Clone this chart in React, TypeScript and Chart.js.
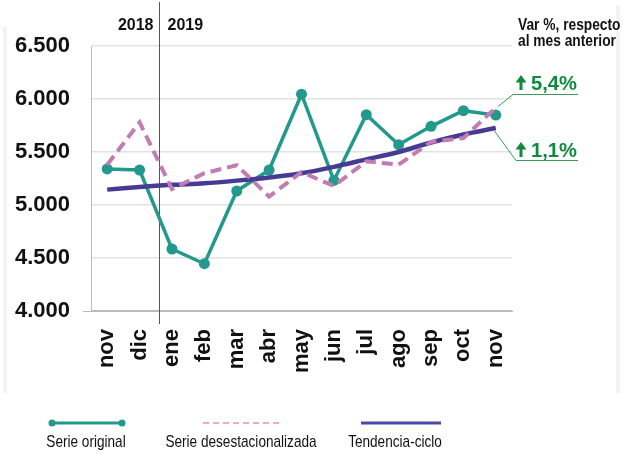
import { useEffect, useRef } from 'react';
import { Chart, registerables } from 'chart.js';

Chart.register(...registerables);

const categories = ['nov', 'dic', 'ene', 'feb', 'mar', 'abr', 'may', 'jun', 'jul', 'ago', 'sep', 'oct', 'nov'];
const serieOriginal = [5340, 5330, 4585, 4446, 5132, 5330, 6045, 5232, 5852, 5569, 5742, 5890, 5848];
const serieDesest = [5380, 5780, 5150, 5300, 5375, 5080, 5310, 5180, 5412, 5380, 5595, 5632, 5918];
const tendencia = [5145, 5170, 5190, 5205, 5230, 5260, 5300, 5360, 5430, 5500, 5590, 5665, 5726];
const yTickValues = [4000, 4500, 5000, 5500, 6000, 6500];
const yTickLabels = ['4.000', '4.500', '5.000', '5.500', '6.000', '6.500'];
const yearLabels = ['2018', '2019'];
const varTitle = ['Var %, respecto', 'al mes anterior'];
const varDesest = '5,4%';
const varTend = '1,1%';
const legendLabels = ['Serie original', 'Serie desestacionalizada', 'Tendencia-ciclo'];

const TEAL = '#23998d';
const PINK = '#c27bb3';
const PINK_LEGEND = '#f2a9c9';
const NAVY = '#463b93';
const NAVY_LEGEND = '#4d4aa3';
const GREEN = '#0f8a3f';
const SANS = '"Liberation Sans", Arial, Helvetica, sans-serif';

function drawText(ctx: CanvasRenderingContext2D, text: string, x: number, y: number, font: string, align: CanvasTextAlign, sx: number) {
  ctx.save();
  ctx.font = font;
  ctx.textAlign = align;
  ctx.textBaseline = 'alphabetic';
  ctx.translate(x, y);
  ctx.scale(sx, 1);
  ctx.fillText(text, 0, 0);
  ctx.restore();
}

function drawUpArrow(ctx: CanvasRenderingContext2D, cx: number, baseline: number) {
  ctx.beginPath();
  ctx.moveTo(cx - 5.5, baseline - 7.5);
  ctx.lineTo(cx, baseline - 15);
  ctx.lineTo(cx + 5.5, baseline - 7.5);
  ctx.closePath();
  ctx.fill();
  ctx.fillRect(cx - 1.5, baseline - 8.5, 3, 8.5);
}

const overlay = {
  id: 'overlay',
  beforeDraw(chart: any) {
    const ctx = chart.ctx;
    ctx.save();
    ctx.fillStyle = '#ffffff';
    ctx.fillRect(0, 0, chart.width, chart.height);
    ctx.fillStyle = '#f3f3f3';
    ctx.fillRect(3, 27, 4, 366);
    ctx.fillRect(616, 6, 4, 387);
    ctx.restore();
  },
  beforeDatasetsDraw(chart: any) {
    const ctx = chart.ctx;
    const xs = chart.scales.x;
    const area = chart.chartArea;
    const p1 = xs.getPixelForValue(1);
    const p2 = xs.getPixelForValue(2);
    const sep = Math.round(p1 + 0.6 * (p2 - p1)) + 0.5;
    ctx.save();
    ctx.strokeStyle = '#555555';
    ctx.lineWidth = 1;
    ctx.beginPath();
    ctx.moveTo(sep, 2);
    ctx.lineTo(sep, area.bottom + 13);
    ctx.stroke();
    ctx.strokeStyle = '#bbbbbb';
    ctx.beginPath();
    ctx.moveTo(area.left - 8, Math.round(area.bottom) + 0.5);
    ctx.lineTo(area.left, Math.round(area.bottom) + 0.5);
    ctx.stroke();
    ctx.fillStyle = '#111111';
    drawText(ctx, yearLabels[0], sep - 6, 30, 'bold 16px ' + SANS, 'right', 1);
    drawText(ctx, yearLabels[1], sep + 8, 30, 'bold 16px ' + SANS, 'left', 1);
    ctx.restore();
  },
  afterDraw(chart: any) {
    const ctx = chart.ctx;
    ctx.save();
    ctx.fillStyle = '#111111';
    drawText(ctx, varTitle[0], 518, 30, 'bold 16px ' + SANS, 'left', 0.86);
    drawText(ctx, varTitle[1], 518, 46, 'bold 16px ' + SANS, 'left', 0.86);

    const metaD = chart.getDatasetMeta(1);
    const metaT = chart.getDatasetMeta(2);
    const lastD = metaD.data[metaD.data.length - 1];
    const lastT = metaT.data[metaT.data.length - 1];
    ctx.fillStyle = GREEN;
    drawUpArrow(ctx, 521, 90);
    drawText(ctx, varDesest, 531, 90, 'bold 21px ' + SANS, 'left', 0.96);
    drawUpArrow(ctx, 521, 157);
    drawText(ctx, varTend, 531, 157, 'bold 21px ' + SANS, 'left', 0.96);
    ctx.strokeStyle = '#3a9a5c';
    ctx.lineWidth = 1;
    ctx.beginPath();
    ctx.moveTo(578, 94.5);
    ctx.lineTo(513, 94.5);
    ctx.lineTo(lastD.x + 2, lastD.y - 1);
    ctx.stroke();
    ctx.beginPath();
    ctx.moveTo(578, 160.5);
    ctx.lineTo(516, 160.5);
    ctx.lineTo(lastT.x - 2, lastT.y + 2);
    ctx.stroke();

    const ly = 423;
    ctx.lineCap = 'butt';
    ctx.strokeStyle = TEAL;
    ctx.lineWidth = 3;
    ctx.beginPath();
    ctx.moveTo(52, ly);
    ctx.lineTo(122, ly);
    ctx.stroke();
    ctx.fillStyle = TEAL;
    [52, 122].forEach((x) => {
      ctx.beginPath();
      ctx.arc(x, ly, 3.5, 0, Math.PI * 2);
      ctx.fill();
    });
    ctx.strokeStyle = PINK_LEGEND;
    ctx.lineWidth = 2;
    ctx.setLineDash([6, 4]);
    ctx.beginPath();
    ctx.moveTo(203, ly);
    ctx.lineTo(282, ly);
    ctx.stroke();
    ctx.setLineDash([]);
    ctx.strokeStyle = NAVY_LEGEND;
    ctx.lineWidth = 3;
    ctx.beginPath();
    ctx.moveTo(361, ly);
    ctx.lineTo(441, ly);
    ctx.stroke();

    ctx.fillStyle = '#111111';
    drawText(ctx, legendLabels[0], 86, 447, '17px ' + SANS, 'center', 0.8);
    drawText(ctx, legendLabels[1], 241, 447, '17px ' + SANS, 'center', 0.8);
    drawText(ctx, legendLabels[2], 395, 447, '17px ' + SANS, 'center', 0.8);
    ctx.restore();
  },
};

export default function App() {
  const ref = useRef<HTMLCanvasElement>(null);
  useEffect(() => {
    if (!ref.current) return;
    const chart = new Chart(ref.current, {
      type: 'line',
      data: {
        labels: categories,
        datasets: [
          {
            label: legendLabels[0],
            data: serieOriginal,
            borderColor: TEAL,
            backgroundColor: TEAL,
            borderWidth: 3.5,
            pointRadius: 5.5,
            pointBorderWidth: 0,
            pointBackgroundColor: TEAL,
            tension: 0,
            order: 2,
          },
          {
            label: legendLabels[1],
            data: serieDesest,
            borderColor: PINK,
            borderWidth: 4,
            borderDash: [11, 6],
            pointRadius: 0,
            tension: 0,
            order: 0,
          },
          {
            label: legendLabels[2],
            data: tendencia,
            borderColor: NAVY,
            borderWidth: 4.5,
            pointRadius: 0,
            tension: 0.3,
            order: 1,
          },
        ],
      },
      options: {
        animation: false,
        responsive: false,
        devicePixelRatio: 1,
        layout: { padding: { left: 0, right: 111, top: 46, bottom: 53 } },
        plugins: { legend: { display: false }, tooltip: { enabled: false } },
        scales: {
          x: {
            offset: true,
            grid: { display: false, drawTicks: false },
            border: { display: true, color: '#bbbbbb', width: 1 },
            ticks: {
              autoSkip: false,
              maxRotation: 90,
              minRotation: 90,
              padding: 18,
              color: '#111111',
              font: { family: SANS, size: 22, weight: 'bold' },
            },
            afterFit: (s: any) => {
              s.height = 90;
            },
          },
          y: {
            min: yTickValues[0],
            max: yTickValues[yTickValues.length - 1],
            afterBuildTicks: (s: any) => {
              s.ticks = yTickValues.map((v) => ({ value: v }));
            },
            grid: {
              drawTicks: false,
              lineWidth: 1.5,
              color: (c: any) => (c.tick && c.tick.value === yTickValues[0] ? '#bbbbbb' : '#e2e2e2'),
            },
            border: { display: true, color: '#bbbbbb', width: 1 },
            ticks: {
              padding: 21,
              color: '#111111',
              font: { family: SANS, size: 22, weight: 'bold' },
              callback: (v: any) => {
                const i = yTickValues.indexOf(Number(v));
                return i >= 0 ? yTickLabels[i] : '';
              },
            },
            afterFit: (s: any) => {
              s.width = 91;
            },
          },
        },
      },
      plugins: [overlay],
    });
    return () => chart.destroy();
  }, []);
  return (
    <div style={{ position: 'absolute', left: 0, top: 0, width: 623, height: 454 }}>
      <canvas ref={ref} width={623} height={454} style={{ display: 'block' }} />
    </div>
  );
}
